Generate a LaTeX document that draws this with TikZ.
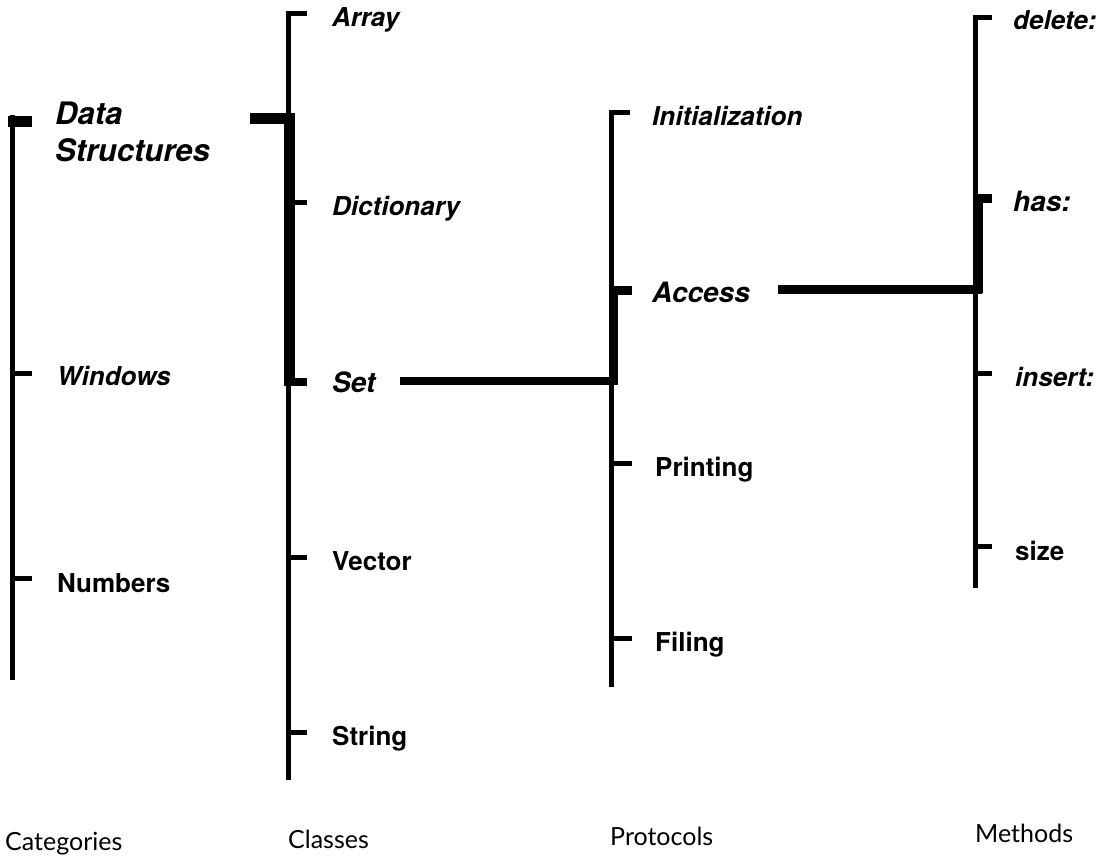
\documentclass[tikz,border=0pt]{standalone}
\usepackage{fontspec}
\setmainfont{TeX Gyre Heros}
\newfontfamily\handfont{Lato}
\begin{document}
\begin{tikzpicture}[x=1pt,y=-1pt,line cap=butt,
  axisline/.style={line width=5pt},
  tickline/.style={line width=5pt},
  selbar/.style={line width=10pt},
  selvert/.style={line width=11pt},
  labi/.style={anchor=base west,inner sep=0pt,font=\fontsize{26}{31}\selectfont\bfseries\itshape},
  labu/.style={anchor=base west,inner sep=0pt,font=\fontsize{26}{31}\selectfont\bfseries},
  labs/.style={anchor=base west,inner sep=0pt,font=\fontsize{28}{37}\selectfont\bfseries\itshape},
  head/.style={anchor=base west,inner sep=0pt,font=\fontsize{25}{30}\selectfont\handfont}]
\useasboundingbox (0,0) rectangle (1110,867);

% ---------- column 1: Categories ----------
\coordinate (c1top) at (12,115);
\coordinate (c1bot) at (12,680);
\draw[axisline] (c1top) -- (c1bot);
\coordinate (c1ds) at (8,121);   \coordinate (c1dsE) at (32,121);
\coordinate (c1w) at (12,373);   \coordinate (c1wE) at (32,373);
\coordinate (c1n) at (12,578);   \coordinate (c1nE) at (32,578);
\draw[selbar,line width=11pt] (c1ds) -- (c1dsE);
\draw[tickline] (c1w) -- (c1wE);
\draw[tickline] (c1n) -- (c1nE);
\node[labs,font=\fontsize{31}{37}\selectfont\bfseries\itshape,anchor=north west,align=left] (ds) at (55,102) {Data\\Structures};
\node[labi] (win) at (57,385) {Windows};
\node[labu] (num) at (57,592) {Numbers};

% ---------- column 2: Classes ----------
\coordinate (c2top) at (288,12);
\coordinate (c2bot) at (288,780);
\draw[axisline] (c2top) -- (c2bot);
\coordinate (c2selA) at (289,113);
\coordinate (c2selB) at (289,386);
\draw[selvert] (c2selA) -- (c2selB);
\coordinate (c2a) at (286,14);   \coordinate (c2aE) at (307,14);
\coordinate (c2d) at (288,202);  \coordinate (c2dE) at (307,202);
\coordinate (c2s) at (288,382);  \coordinate (c2sE) at (307,382);
\coordinate (c2v) at (288,557);  \coordinate (c2vE) at (307,557);
\coordinate (c2st) at (288,732); \coordinate (c2stE) at (307,732);
\draw[tickline] (c2a) -- (c2aE);
\draw[tickline] (c2d) -- (c2dE);
\draw[tickline,line width=8pt] (c2s) -- (c2sE);
\draw[tickline] (c2v) -- (c2vE);
\draw[tickline] (c2st) -- (c2stE);
\node[labi] (arr) at (332,27) {Array};
\node[labi] (dict) at (332,215) {Dictionary};
\node[labs] (set) at (332,392) {Set};
\node[labu] (vec) at (332,570) {Vector};
\node[labu] (str) at (332,745) {String};
% connector Data Structures -> Classes
\coordinate (dsbar) at (250,118);
\coordinate (c2dsbar) at (294,118);
\draw[selbar,line width=11pt] (dsbar) -- (c2dsbar);

% ---------- column 3: Protocols ----------
\coordinate (c3top) at (611,110);
\coordinate (c3bot) at (611,687);
\draw[axisline] (c3top) -- (c3bot);
\coordinate (c3selA) at (613,286);
\coordinate (c3selB) at (613,385);
\draw[selvert,line width=9pt] (c3selA) -- (c3selB);
\coordinate (c3i) at (609,112);  \coordinate (c3iE) at (630,112);
\coordinate (c3a) at (611,290);  \coordinate (c3aE) at (632,290);
\coordinate (c3p) at (611,463);  \coordinate (c3pE) at (632,463);
\coordinate (c3f) at (611,638);  \coordinate (c3fE) at (632,638);
\draw[tickline] (c3i) -- (c3iE);
\draw[tickline,line width=9pt] (c3a) -- (c3aE);
\draw[tickline] (c3p) -- (c3pE);
\draw[tickline] (c3f) -- (c3fE);
\node[labi] (init) at (652,125) {Initialization};
\node[labs] (acc) at (652,302) {Access};
\node[labu] (prt) at (655,476) {Printing};
\node[labu] (fil) at (655,651) {Filing};
% connector Set -> Protocols
\coordinate (setbar) at (400,381);
\coordinate (c3setbar) at (617,381);
\draw[selbar,line width=8pt] (setbar) -- (c3setbar);

% ---------- column 4: Methods ----------
\coordinate (c4top) at (975,15);
\coordinate (c4bot) at (975,588);
\draw[axisline] (c4top) -- (c4bot);
\coordinate (c4selA) at (978,196);
\coordinate (c4selB) at (978,293);
\draw[selvert,line width=9pt] (c4selA) -- (c4selB);
\coordinate (c4d) at (973,18);   \coordinate (c4dE) at (992,18);
\coordinate (c4h) at (975,198);  \coordinate (c4hE) at (992,198);
\coordinate (c4i) at (975,373);  \coordinate (c4iE) at (992,373);
\coordinate (c4s) at (975,546);  \coordinate (c4sE) at (992,546);
\draw[tickline] (c4d) -- (c4dE);
\draw[tickline,line width=9pt] (c4h) -- (c4hE);
\draw[tickline] (c4i) -- (c4iE);
\draw[tickline] (c4s) -- (c4sE);
\node[labi] (del) at (1013,30) {delete:};
\node[labs] (has) at (1013,211) {has:};
\node[labi] (ins) at (1015,386) {insert:};
\node[labu] (siz) at (1015,560) {size};
% connector Access -> Methods
\coordinate (accbar) at (778,289);
\coordinate (c4accbar) at (982,289);
\draw[selbar,line width=9pt] (accbar) -- (c4accbar);

% ---------- column headings ----------
\node[head] (hcat) at (5,850) {Categories};
\node[head] (hcls) at (288,848) {Classes};
\node[head] (hpro) at (610,845) {Protocols};
\node[head] (hmet) at (975,842) {Methods};
\end{tikzpicture}
\end{document}
